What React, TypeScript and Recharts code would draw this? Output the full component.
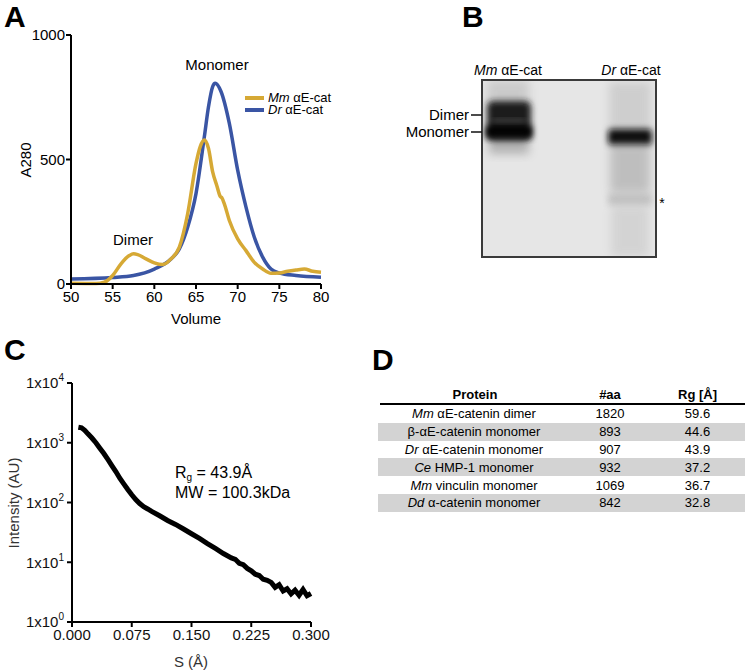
import React from 'react';
import { LineChart, Line, XAxis, YAxis } from 'recharts';

const FONT = '"Liberation Sans", Arial, Helvetica, sans-serif';

// Panel A data
const volumeTicks = [50, 55, 60, 65, 70, 75, 80];
const a280Ticks = [0, 500, 1000];

const drVolume = [50, 55, 57.5, 60, 62, 63, 64, 65, 66, 66.5, 67, 67.3, 68, 69, 70, 71, 72, 73, 74, 75, 77, 80];
const drA280 = [20, 26, 34, 60, 100, 141, 228, 363, 591, 712, 793, 806, 773, 645, 457, 309, 188, 108, 60, 44, 34, 27];

const mmVolume = [50, 53, 54, 55, 56, 57, 57.5, 58, 59, 60, 61, 62, 63, 64, 65, 65.5, 66, 66.5, 67, 67.5, 67.9, 68.1, 68.4, 69, 70, 71, 72, 73, 74, 75, 76, 77, 78, 79, 80];
const mmA280 = [3, 2, 7, 34, 81, 114, 121, 118, 101, 85, 78, 101, 148, 282, 484, 551, 578, 544, 450, 395, 352, 346, 322, 255, 181, 134, 87, 60, 43, 44, 51, 56, 60, 51, 47];

// Panel C data
const sTicks = [0, 0.075, 0.15, 0.225, 0.3];
const intensityTicks = [1, 10, 100, 1000, 10000];
const sValues = [0.008, 0.012, 0.016, 0.02, 0.025, 0.03, 0.035, 0.04, 0.045, 0.05, 0.055, 0.06, 0.065, 0.07, 0.075, 0.08, 0.085, 0.09, 0.095, 0.1, 0.11, 0.12, 0.13, 0.14, 0.15, 0.16, 0.17, 0.18, 0.19, 0.2, 0.205, 0.21, 0.215, 0.22, 0.225, 0.23, 0.235, 0.24, 0.245, 0.25, 0.255, 0.26, 0.265, 0.27, 0.275, 0.28, 0.285, 0.29, 0.295, 0.3];
const intensityValues = [1820, 1780, 1620, 1410, 1200, 1000, 810, 660, 525, 415, 330, 255, 205, 165, 135, 112, 96, 85, 78, 71, 60, 50, 43, 36, 30, 25, 20.5, 17, 14, 11.8, 11.2, 9.6, 9.1, 7.9, 7.2, 6.3, 6.0, 5.2, 5.0, 4.6, 3.8, 4.2, 3.3, 3.6, 2.95, 3.4, 2.8, 3.5, 2.75, 3.0];

// Panel D data
const proteinNames = [
  ['Mm', ' αE-catenin dimer'],
  ['', 'β-αE-catenin monomer'],
  ['Dr', ' αE-catenin monomer'],
  ['Ce', ' HMP-1 monomer'],
  ['Mm', ' vinculin monomer'],
  ['Dd', ' α-catenin monomer'],
];
const aaCounts = [1820, 893, 907, 932, 1069, 842];
const rgValues = ['59.6', '44.6', '43.9', '37.2', '36.7', '32.8'];

const YELLOW = '#D6A935';
const BLUE = '#3A55A4';

const drData = drVolume.map((v, i) => ({ v, a: drA280[i] }));
const mmData = mmVolume.map((v, i) => ({ v, a: mmA280[i] }));
const saxsData = sValues.map((s, i) => ({ s, I: intensityValues[i] }));

const abs = (x: number, y: number, extra: React.CSSProperties = {}): React.CSSProperties => ({
  position: 'absolute', left: x, top: y, whiteSpace: 'nowrap', ...extra,
});

const LogTick = (props: any) => {
  const { x, y, payload } = props;
  const exp = Math.round(Math.log10(payload.value));
  return (
    <text x={x} y={y} textAnchor="end" fontSize={15} fontFamily={FONT} fill="#111" dy="0.35em">
      <tspan>1x10</tspan>
      <tspan dy={-7} fontSize={10}>{exp}</tspan>
    </text>
  );
};

export default function App() {
  const axisStyle = { stroke: '#000', strokeWidth: 2 };
  const panelLabel = { fontSize: 30, fontWeight: 'bold' as const, lineHeight: '34px' };
  return (
    <div style={{ position: 'absolute', left: 0, top: 0, width: 745, height: 671, background: '#fff', fontFamily: FONT, overflow: 'hidden' }}>
      {/* Panel A */}
      <div style={abs(0, 0)}>
        <LineChart width={400} height={330} margin={{ top: 35, right: 79, bottom: 16, left: 31 }}>
          <XAxis dataKey="v" type="number" domain={[50, 80]} ticks={volumeTicks} allowDuplicatedCategory={false}
            axisLine={axisStyle} tickLine={axisStyle} tickSize={5} height={30}
            tick={{ fill: '#000', fontSize: 15, fontFamily: FONT }} />
          <YAxis type="number" domain={[0, 1000]} ticks={a280Ticks} width={40}
            axisLine={axisStyle} tickLine={axisStyle} tickSize={5} tickMargin={1}
            tick={{ fill: '#000', fontSize: 15, fontFamily: FONT }} />
          <Line data={drData} dataKey="a" name="Dr" stroke={BLUE} strokeWidth={3.5} dot={false} type="monotone" isAnimationActive={false} />
          <Line data={mmData} dataKey="a" name="Mm" stroke={YELLOW} strokeWidth={3.5} dot={false} type="monotone" isAnimationActive={false} />
        </LineChart>
      </div>
      <div style={abs(245, 92, { fontSize: 13, lineHeight: '12px' })}>
        <div style={{ display: 'flex', alignItems: 'center' }}>
          <span style={{ display: 'inline-block', width: 19, height: 4, background: YELLOW, marginRight: 4 }} />
          <span><i>Mm</i> αE-cat</span>
        </div>
        <div style={{ display: 'flex', alignItems: 'center' }}>
          <span style={{ display: 'inline-block', width: 19, height: 4, background: BLUE, marginRight: 4 }} />
          <span><i>Dr</i> αE-cat</span>
        </div>
      </div>
      <div style={abs(4, 0, panelLabel)}>A</div>
      <div style={abs(25, 160, { fontSize: 15, transform: 'translate(-50%, -50%) rotate(-90deg)' })}>A280</div>
      <div style={abs(196, 318, { fontSize: 15, transform: 'translate(-50%, -50%)' })}>Volume</div>
      <div style={abs(217, 64, { fontSize: 15, transform: 'translate(-50%, -50%)' })}>Monomer</div>
      <div style={abs(133, 239, { fontSize: 15, transform: 'translate(-50%, -50%)' })}>Dimer</div>

      {/* Panel B (gel image) */}
      <div style={abs(462, 0, panelLabel)}>B</div>
      <svg width={745} height={330} style={{ position: 'absolute', left: 0, top: 0 }}>
        <defs>
          <filter id="b1" x="-50%" y="-50%" width="200%" height="200%"><feGaussianBlur stdDeviation="3" /></filter>
          <filter id="b2" x="-50%" y="-50%" width="200%" height="200%"><feGaussianBlur stdDeviation="5" /></filter>
          <clipPath id="gelclip"><rect x={482} y={80} width={174} height={177} /></clipPath>
        </defs>
        <rect x={482} y={80} width={174} height={177} fill="#e6e6e6" />
        <g clipPath="url(#gelclip)">
          <rect x={487} y={80} width={42} height={30} fill="#999" opacity={0.35} filter="url(#b2)" />
          <rect x={487} y={101} width={44} height={40} rx={6} fill="#1a1a1a" filter="url(#b1)" />
          <rect x={492} y={119} width={34} height={4} fill="#666" opacity={0.6} filter="url(#b1)" />
          <rect x={486} y={126} width={46} height={12} fill="#000" filter="url(#b1)" />
          <rect x={489} y={138} width={40} height={16} fill="#555" opacity={0.35} filter="url(#b2)" />
          <rect x={609} y={82} width={42} height={50} fill="#999" opacity={0.3} filter="url(#b2)" />
          <rect x={608} y={129} width={44} height={16} rx={4} fill="#111" filter="url(#b1)" />
          <rect x={610} y={143} width={40} height={50} fill="#777" opacity={0.35} filter="url(#b2)" />
          <rect x={608} y={194} width={44} height={11} fill="#999" opacity={0.45} filter="url(#b1)" />
          <rect x={611} y={205} width={38} height={52} fill="#aaa" opacity={0.3} filter="url(#b2)" />
        </g>
        <rect x={482} y={80} width={174} height={177} fill="none" stroke="#3a3a3a" strokeWidth={2} />
        <line x1={471} x2={482} y1={115} y2={115} stroke="#111" strokeWidth={1.5} />
        <line x1={471} x2={482} y1={132} y2={132} stroke="#111" strokeWidth={1.5} />
        <text x={469} y={115} textAnchor="end" dy="0.35em" fontSize={15} fontFamily={FONT}>Dimer</text>
        <text x={469} y={132} textAnchor="end" dy="0.35em" fontSize={15} fontFamily={FONT}>Monomer</text>
        <text x={508} y={70} textAnchor="middle" dy="0.35em" fontSize={14} fontFamily={FONT}><tspan fontStyle="italic">Mm</tspan> αE-cat</text>
        <text x={631} y={70} textAnchor="middle" dy="0.35em" fontSize={14} fontFamily={FONT}><tspan fontStyle="italic">Dr</tspan> αE-cat</text>
        <text x={662} y={203} textAnchor="middle" dy="0.35em" fontSize={14} fontFamily={FONT}>*</text>
      </svg>

      {/* Panel C */}
      <div style={abs(0, 330)}>
        <LineChart width={340} height={341} data={saxsData} margin={{ top: 53, right: 29, bottom: 19, left: 22 }}>
          <XAxis dataKey="s" type="number" domain={[0, 0.3]} ticks={sTicks} tickFormatter={(v: number) => v.toFixed(3)}
            axisLine={axisStyle} tickLine={axisStyle} tickSize={5} height={30}
            tick={{ fill: '#111', fontSize: 15, fontFamily: FONT }} />
          <YAxis type="number" scale="log" domain={[1, 10000]} ticks={intensityTicks} allowDataOverflow width={50}
            axisLine={axisStyle} tickLine={axisStyle} tickSize={5} tickMargin={3} tick={<LogTick />} />
          <Line dataKey="I" stroke="#000" strokeWidth={5} dot={false} type="linear" isAnimationActive={false} />
        </LineChart>
      </div>
      <div style={abs(4, 333, panelLabel)}>C</div>
      <div style={abs(13, 503, { fontSize: 15, color: '#333', transform: 'translate(-50%, -50%) rotate(-90deg)' })}>Intensity (AU)</div>
      <div style={abs(191, 661, { fontSize: 15, color: '#333', transform: 'translate(-50%, -50%)' })}>S (Å)</div>
      <div style={abs(175, 463, { fontSize: 16, lineHeight: '20px' })}>
        <div>R<sub style={{ fontSize: 10, verticalAlign: '-3px', lineHeight: 0 }}>g</sub> = 43.9Å</div>
        <div>MW = 100.3kDa</div>
      </div>

      {/* Panel D */}
      <div style={abs(372, 343, panelLabel)}>D</div>
      <div style={abs(378, 386, { width: 367, fontSize: 13 })}>
        <div style={{ display: 'flex', height: 17, alignItems: 'center', fontWeight: 'bold', borderBottom: '2px solid #000', marginLeft: 2 }}>
          <div style={{ width: 190, textAlign: 'center' }}>Protein</div>
          <div style={{ width: 80, textAlign: 'center' }}>#aa</div>
          <div style={{ width: 95, textAlign: 'center' }}>Rg [Å]</div>
        </div>
        {proteinNames.map((p, i) => (
          <div key={i} style={{ display: 'flex', height: 17.8, alignItems: 'center', background: i % 2 === 1 ? '#d3d3d3' : 'transparent' }}>
            <div style={{ width: 192, textAlign: 'center' }}>{p[0] ? <i>{p[0]}</i> : null}{p[1]}</div>
            <div style={{ width: 80, textAlign: 'center' }}>{aaCounts[i]}</div>
            <div style={{ width: 95, textAlign: 'center' }}>{rgValues[i]}</div>
          </div>
        ))}
      </div>
    </div>
  );
}
